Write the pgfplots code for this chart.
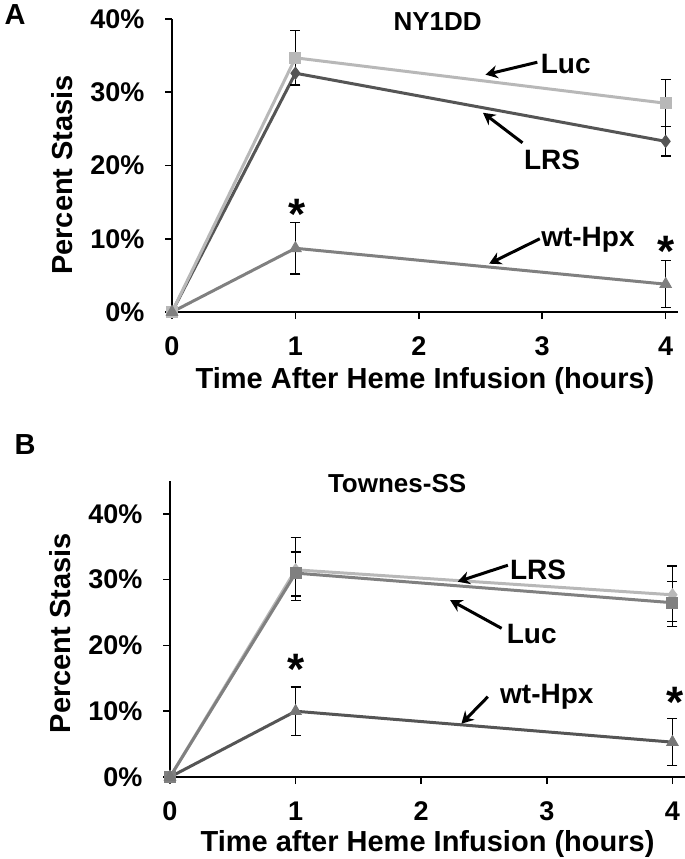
\documentclass[border=0pt]{standalone}
\usepackage{fontspec}
\setmainfont{Liberation Sans}
\usepackage{pgfplots}
\pgfplotsset{compat=1.18}
\usetikzlibrary{arrows.meta}

\pgfplotstableread{
x y ep em
0 0 0 0
1 34.7 3.7 3.7
4 28.5 3.2 3.2
}\ALuc
\pgfplotstableread{
x y ep em
0 0 0 0
1 32.6 1.7 1.7
4 23.3 2.0 2.0
}\ALRS
\pgfplotstableread{
x y ep em
0 0 0 0
1 8.7 3.5 3.5
4 3.8 3.2 3.2
}\AHpx
\pgfplotstableread{
x y ep em
0 0 0 0
1 31.0 5.4 4.2
4 26.5 5.6 3.6
}\BLuc
\pgfplotstableread{
x y ep em
0 0 0 0
1 31.5 2.7 4.0
4 27.7 2.0 4.1
}\BLRS
\pgfplotstableread{
x y ep em
0 0 0 0
1 10.0 3.7 3.7
4 5.3 3.6 3.6
}\BHpx

\definecolor{lightg}{HTML}{B8B8B8}
\definecolor{midg}{HTML}{808080}
\definecolor{darkg}{HTML}{555555}

\pgfplotsset{
  panel/.style={
    scale only axis,
    axis x line*=bottom, axis y line*=left,
    axis line style={line width=2bp, black},
    xmin=0, xmax=4.1, ymin=0,
    xtick={0,1,2,3,4}, xticklabels={0,1,2,3,4},
    ytick={0,10,20,30,40}, yticklabels={0\%,10\%,20\%,30\%,40\%},
    tick align=outside, major tick length=7bp,
    tick style={line width=1.6bp, black},
    ticklabel style={font=\fontsize{27bp}{30bp}\selectfont\bfseries},
    xticklabel style={yshift=-14bp},
    yticklabel style={xshift=-17bp},
    label style={font=\fontsize{29bp}{32bp}\selectfont\bfseries},
    clip=false,
    every axis plot/.append style={line width=3bp},
    error bars/y dir=both, error bars/y explicit,
    error bars/error bar style={line width=1.3bp, black},
    error bars/error mark options={rotate=90, mark size=5bp, line width=1.3bp, black},
  },
}
\tikzset{
  ann/.style={font=\fontsize{28bp}{32bp}\selectfont\bfseries},
  ttl/.style={font=\fontsize{26bp}{30bp}\selectfont\bfseries},
  star/.style={font=\fontsize{44bp}{46bp}\selectfont\bfseries},
  arr/.style={line width=3bp, -{Stealth[length=12bp,width=13bp]}},
}

\begin{document}
\begin{tikzpicture}[x=1bp,y=1bp]
\useasboundingbox (0,0) rectangle (685,-859);
\node[font=\fontsize{29bp}{32bp}\selectfont\bfseries] at (15,-15) {A};
\node[font=\fontsize{29bp}{32bp}\selectfont\bfseries] at (25,-445) {B};

\begin{axis}[panel,
  at={(172bp,-312bp)}, anchor=south west,
  width=506bp, height=293bp, ymax=40,
  xlabel={Time After Heme Infusion (hours)},
  xlabel style={at={(axis description cs:0.5,-0.235)}, anchor=center},
  ylabel={Percent Stasis},
  ylabel style={at={(axis description cs:-0.217,0.468)}, anchor=center, rotate=0},
]
\addplot[color=darkg, mark=diamond*, mark size=6bp, mark options={fill=darkg, draw=darkg, line width=1bp}]
  table[x=x, y=y, y error plus=ep, y error minus=em] {\ALRS};
\addplot[color=lightg, mark=square*, mark size=5.5bp, mark options={fill=lightg, draw=lightg, line width=1bp}]
  table[x=x, y=y, y error plus=ep, y error minus=em] {\ALuc};
\addplot[color=midg, mark=triangle*, mark size=6.5bp, mark options={fill=midg, draw=midg, line width=1bp}]
  table[x=x, y=y, y error plus=ep, y error minus=em] {\AHpx};

\node[ttl] at (axis description cs:0.525,0.99) {NY1DD};
\node[ann] at (axis cs:3.19,33.8) {Luc};
\draw[arr] (axis cs:2.96,34.1) -- (axis cs:2.54,32.4);
\node[ann] at (axis cs:3.08,20.8) {LRS};
\draw[arr] (axis cs:2.84,23.1) -- (axis cs:2.52,27.2);
\node[ann] at (axis cs:3.37,9.8) {wt-Hpx};
\draw[arr] (axis cs:2.98,10.0) -- (axis cs:2.57,6.6);
\node[star] at (axis cs:1.01,13.3) {*};
\node[star] at (axis cs:4.0,8.3) {*};
\end{axis}

\begin{axis}[panel,
  at={(170bp,-777bp)}, anchor=south west,
  width=515bp, height=296bp, ymax=45,
  xlabel={Time after Heme Infusion (hours)},
  xlabel style={at={(axis description cs:0.5,-0.225)}, anchor=center},
  ylabel={Percent Stasis},
  ylabel style={at={(axis description cs:-0.214,0.486)}, anchor=center, rotate=0},
]
\addplot[color=lightg, mark=diamond*, mark size=6bp, mark options={fill=lightg, draw=lightg, line width=1bp}]
  table[x=x, y=y, y error plus=ep, y error minus=em] {\BLRS};
\addplot[color=midg, mark=square*, mark size=5.5bp, mark options={fill=midg, draw=midg, line width=1bp}]
  table[x=x, y=y, y error plus=ep, y error minus=em] {\BLuc};
\addplot[color=darkg, mark=triangle*, mark size=6.5bp, mark options={fill=darkg!80, draw=darkg!80, line width=1bp}]
  table[x=x, y=y, y error plus=ep, y error minus=em] {\BHpx};

\node[ttl] at (axis description cs:0.441,0.99) {Townes-SS};
\node[ann] at (axis cs:2.93,31.5) {LRS};
\draw[arr] (axis cs:2.69,32.2) -- (axis cs:2.29,29.7);
\node[ann] at (axis cs:2.88,21.7) {Luc};
\draw[arr] (axis cs:2.64,22.6) -- (axis cs:2.23,26.9);
\node[ann] at (axis cs:3.0,12.2) {wt-Hpx};
\draw[arr] (axis cs:2.53,12.2) -- (axis cs:2.32,8.1);
\node[star] at (axis cs:1.0,16.4) {*};
\node[star] at (axis cs:4.02,11.3) {*};
\end{axis}
\end{tikzpicture}
\end{document}
